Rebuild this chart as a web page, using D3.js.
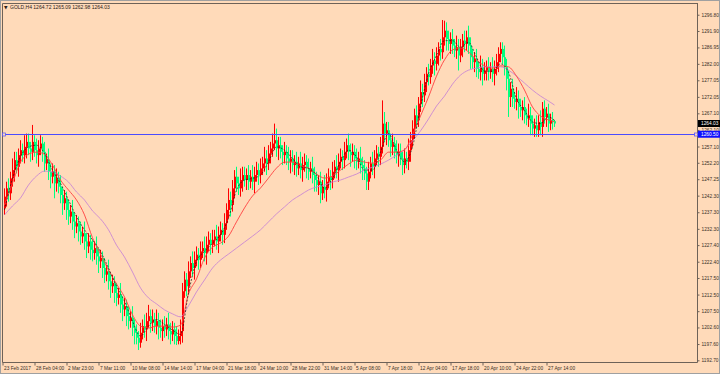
<!DOCTYPE html>
<html>
<head>
<meta charset="utf-8">
<script src="https://cdn.jsdelivr.net/npm/d3@7"></script>
<style>
  body { margin: 0; background: #ffdab9; }
  svg { display: block; }
  text { font-family: "Liberation Sans", Arial, sans-serif; }
</style>
</head>
<body>
<svg id="chart" width="720" height="374"></svg>
<script>
// GOLD H4 candles, one value per bar (oldest first)
const opens = [1238.5,1242.0,1244.5,1243.0,1247.5,1250.0,1253.0,1251.0,1254.5,1256.0,1254.5,1257.0,1258.5,1256.5,1255.5,1258.5,1256.0,1254.5,1256.5,1258.0,
1255.5,1252.0,1253.0,1249.5,1248.0,1249.5,1246.0,1247.5,1245.0,1242.5,1240.0,1241.5,1238.0,1236.0,1237.5,1234.5,1233.0,1234.0,1231.5,1230.0,
1231.0,1228.5,1227.0,1228.5,1226.0,1225.0,1226.5,1224.0,1222.5,1223.5,1220.5,1218.5,1219.5,1216.5,1215.0,1216.0,1213.0,1211.5,1212.5,1209.5,
1208.0,1209.0,1206.0,1204.5,1205.5,1202.5,1201.0,1199.5,1198.0,1201.0,1203.0,1202.0,1204.5,1206.0,1204.0,1205.0,1203.0,1204.5,1202.5,1201.5,
1203.0,1202.0,1203.5,1201.5,1200.5,1202.0,1200.0,1198.5,1200.0,1201.5,1213.5,1217.0,1215.0,1219.5,1222.0,1220.5,1223.0,1224.5,1223.0,1225.5,
1226.5,1225.0,1227.5,1229.0,1227.5,1229.0,1230.0,1228.5,1230.5,1232.0,1230.5,1234.0,1238.0,1241.0,1239.5,1244.5,1248.0,1246.0,1244.5,1247.0,
1248.5,1247.0,1248.5,1246.5,1248.0,1246.5,1248.5,1250.0,1248.5,1250.5,1252.0,1253.5,1252.0,1255.0,1256.5,1258.0,1259.0,1256.5,1257.5,1255.5,
1254.5,1255.5,1253.5,1252.5,1253.5,1251.5,1252.5,1250.5,1252.0,1250.0,1251.5,1252.5,1250.5,1249.5,1250.5,1248.5,1247.0,1245.5,1246.5,1243.0,
1245.0,1244.0,1246.5,1248.0,1247.0,1249.5,1251.0,1250.0,1252.5,1254.0,1253.0,1255.5,1257.5,1255.5,1254.5,1255.5,1253.5,1252.5,1253.5,1251.5,
1250.5,1249.0,1246.5,1249.5,1252.0,1251.0,1253.5,1255.0,1254.0,1257.0,1264.0,1261.0,1262.0,1259.0,1257.0,1258.0,1255.5,1254.5,1255.5,1253.5,
1251.5,1253.5,1252.5,1256.0,1259.0,1262.5,1266.5,1265.0,1270.0,1273.5,1272.5,1276.5,1279.0,1278.0,1281.5,1283.0,1282.0,1284.5,1286.5,1285.5,
1290.0,1292.0,1289.5,1288.0,1289.5,1287.5,1286.0,1287.0,1284.5,1287.0,1289.0,1288.0,1290.0,1287.5,1284.0,1282.5,1283.5,1280.5,1279.5,1281.0,
1279.0,1280.0,1281.0,1279.5,1280.5,1279.0,1280.5,1282.5,1285.0,1286.5,1284.0,1281.0,1277.5,1272.0,1274.5,1271.5,1270.5,1271.5,1269.0,1268.0,
1269.0,1266.5,1265.5,1266.5,1264.0,1262.5,1263.5,1262.0,1264.5,1263.0,1268.5,1266.0,1267.0,1264.0,1265.0,1264.72];
const highs = [1244.5,1246.5,1247.5,1249.5,1253.5,1255.5,1255.5,1256.5,1259.0,1258.0,1260.5,1261.0,1261.0,1258.5,1263.6,1260.5,1259.5,1259.0,1260.5,1260.0,
1258.5,1255.0,1256.5,1252.0,1252.0,1251.5,1250.5,1249.5,1248.5,1245.0,1244.0,1243.5,1241.0,1239.5,1241.0,1237.0,1236.5,1236.0,1234.5,1233.0,
1234.5,1231.0,1231.0,1230.5,1229.0,1228.5,1230.0,1226.5,1226.0,1225.5,1223.5,1221.5,1223.0,1219.0,1218.5,1218.0,1216.0,1214.5,1216.0,1212.0,
1211.5,1211.0,1209.0,1207.5,1209.0,1205.0,1203.5,1201.5,1204.0,1205.0,1206.5,1207.0,1209.4,1208.0,1208.0,1207.0,1208.0,1207.0,1205.0,1205.0,
1206.0,1205.5,1207.0,1204.0,1204.5,1204.0,1203.0,1202.0,1205.0,1216.0,1219.5,1219.0,1222.5,1224.0,1225.5,1225.5,1227.0,1226.5,1228.5,1228.5,
1230.0,1230.0,1231.5,1231.0,1232.0,1232.0,1233.5,1233.0,1234.5,1234.0,1237.0,1240.0,1244.5,1243.5,1247.0,1250.0,1251.0,1248.0,1250.5,1251.0,
1251.0,1250.5,1251.5,1250.0,1251.5,1251.0,1252.5,1252.0,1253.5,1254.0,1257.0,1256.0,1257.5,1258.5,1261.0,1264.0,1262.5,1260.0,1260.0,1257.5,
1258.5,1257.5,1257.0,1256.0,1256.0,1254.5,1255.5,1254.0,1255.5,1254.0,1255.0,1254.5,1253.5,1252.5,1254.0,1251.0,1249.5,1248.5,1249.5,1247.0,
1248.5,1249.0,1250.5,1250.0,1252.5,1253.0,1254.5,1255.0,1256.5,1256.0,1258.5,1259.5,1261.0,1258.0,1258.0,1257.5,1256.5,1255.5,1257.0,1254.0,
1253.0,1251.0,1252.5,1254.0,1255.5,1256.0,1257.5,1257.0,1260.0,1271.0,1267.5,1264.5,1264.5,1261.0,1261.0,1260.0,1259.0,1258.0,1258.0,1255.5,
1256.5,1255.5,1259.5,1261.5,1265.0,1268.5,1269.5,1272.0,1277.0,1276.0,1279.0,1281.0,1282.0,1283.5,1286.5,1285.5,1287.0,1288.5,1289.5,1295.2,
1295.0,1294.5,1292.0,1291.5,1292.5,1289.5,1290.5,1289.5,1289.5,1291.0,1292.0,1292.0,1293.5,1290.0,1286.5,1285.5,1286.5,1282.5,1284.5,1283.5,
1282.5,1283.0,1284.0,1282.5,1284.0,1283.0,1285.0,1287.0,1288.5,1288.5,1287.5,1283.5,1280.0,1276.5,1277.5,1273.5,1275.0,1274.0,1271.5,1271.0,
1272.0,1268.5,1270.0,1269.0,1266.5,1265.5,1266.5,1266.5,1268.0,1270.5,1271.0,1269.0,1270.0,1267.0,1267.5,1265.09];
const lows = [1236.5,1239.0,1240.5,1241.0,1245.0,1246.5,1249.0,1248.0,1252.0,1252.5,1252.0,1253.5,1254.5,1252.5,1253.0,1254.0,1252.0,1251.0,1254.5,1252.5,
1249.5,1250.0,1247.0,1244.5,1246.0,1241.5,1243.5,1243.0,1240.0,1236.5,1238.0,1235.0,1233.5,1234.0,1232.0,1229.5,1231.0,1228.5,1227.5,1228.0,
1226.0,1223.5,1225.0,1223.0,1222.5,1223.0,1221.5,1219.0,1220.5,1217.5,1216.0,1216.5,1214.0,1211.5,1213.0,1210.0,1209.0,1209.5,1207.0,1204.5,
1206.0,1203.0,1202.0,1202.5,1200.0,1197.5,1197.5,1195.8,1196.5,1199.0,1199.5,1198.5,1202.5,1201.0,1201.5,1201.0,1200.5,1199.0,1199.5,1198.5,
1199.5,1200.0,1199.0,1197.5,1198.5,1197.5,1197.3,1197.5,1197.5,1198.0,1211.5,1212.0,1212.5,1217.5,1218.0,1217.0,1221.0,1220.0,1220.5,1223.5,
1222.5,1221.5,1225.5,1224.5,1225.0,1227.0,1226.0,1225.0,1228.5,1227.5,1228.0,1232.0,1235.5,1236.0,1237.5,1241.5,1243.5,1242.5,1242.0,1243.5,
1245.0,1244.0,1244.0,1244.5,1244.0,1243.0,1246.5,1245.5,1246.0,1248.5,1249.5,1248.5,1250.0,1252.0,1254.0,1256.0,1254.0,1253.0,1253.5,1251.5,
1252.0,1251.5,1250.0,1249.0,1249.5,1248.5,1248.0,1248.5,1247.5,1246.5,1249.5,1247.5,1247.0,1247.5,1246.0,1243.5,1243.5,1242.5,1240.0,1241.0,
1241.5,1240.5,1244.5,1244.0,1244.5,1247.5,1247.5,1246.5,1250.5,1250.0,1250.5,1253.5,1253.0,1251.0,1252.5,1250.5,1250.0,1250.5,1249.0,1247.0,
1247.0,1244.0,1244.0,1247.5,1248.5,1247.5,1251.5,1251.0,1251.5,1255.0,1258.5,1257.5,1257.0,1254.0,1254.5,1253.5,1252.0,1251.0,1251.5,1248.5,
1249.0,1250.5,1250.0,1252.5,1257.0,1259.5,1262.5,1263.0,1267.5,1269.0,1270.5,1273.5,1275.5,1276.0,1279.0,1278.5,1280.0,1281.5,1283.0,1283.5,
1287.5,1286.0,1286.0,1285.0,1285.0,1284.0,1283.5,1280.0,1282.5,1284.0,1285.5,1286.0,1285.0,1280.5,1280.5,1279.5,1278.0,1277.5,1277.0,1275.5,
1277.0,1277.0,1277.0,1277.5,1276.5,1275.5,1278.5,1279.5,1282.5,1282.0,1278.5,1274.0,1266.0,1269.0,1269.0,1268.5,1268.0,1265.5,1266.0,1265.0,
1264.0,1263.5,1263.0,1260.5,1260.5,1260.0,1260.0,1260.0,1260.5,1260.0,1264.0,1263.0,1261.5,1262.0,1262.2,1262.98];
const closes = [1242.0,1244.5,1243.0,1247.5,1250.0,1253.0,1251.0,1254.5,1256.0,1254.5,1257.0,1258.5,1256.5,1255.5,1258.5,1256.0,1254.5,1256.5,1258.0,1255.5,
1252.0,1253.0,1249.5,1248.0,1249.5,1246.0,1247.5,1245.0,1242.5,1240.0,1241.5,1238.0,1236.0,1237.5,1234.5,1233.0,1234.0,1231.5,1230.0,1231.0,
1228.5,1227.0,1228.5,1226.0,1225.0,1226.5,1224.0,1222.5,1223.5,1220.5,1218.5,1219.5,1216.5,1215.0,1216.0,1213.0,1211.5,1212.5,1209.5,1208.0,
1209.0,1206.0,1204.5,1205.5,1202.5,1201.0,1199.5,1198.0,1201.0,1203.0,1202.0,1204.5,1206.0,1204.0,1205.0,1203.0,1204.5,1202.5,1201.5,1203.0,
1202.0,1203.5,1201.5,1200.5,1202.0,1200.0,1198.5,1200.0,1201.5,1213.5,1217.0,1215.0,1219.5,1222.0,1220.5,1223.0,1224.5,1223.0,1225.5,1226.5,
1225.0,1227.5,1229.0,1227.5,1229.0,1230.0,1228.5,1230.5,1232.0,1230.5,1234.0,1238.0,1241.0,1239.5,1244.5,1248.0,1246.0,1244.5,1247.0,1248.5,
1247.0,1248.5,1246.5,1248.0,1246.5,1248.5,1250.0,1248.5,1250.5,1252.0,1253.5,1252.0,1255.0,1256.5,1258.0,1259.0,1256.5,1257.5,1255.5,1254.5,
1255.5,1253.5,1252.5,1253.5,1251.5,1252.5,1250.5,1252.0,1250.0,1251.5,1252.5,1250.5,1249.5,1250.5,1248.5,1247.0,1245.5,1246.5,1243.0,1245.0,
1244.0,1246.5,1248.0,1247.0,1249.5,1251.0,1250.0,1252.5,1254.0,1253.0,1255.5,1257.5,1255.5,1254.5,1255.5,1253.5,1252.5,1253.5,1251.5,1250.5,
1249.0,1246.5,1249.5,1252.0,1251.0,1253.5,1255.0,1254.0,1257.0,1264.0,1261.0,1262.0,1259.0,1257.0,1258.0,1255.5,1254.5,1255.5,1253.5,1251.5,
1253.5,1252.5,1256.0,1259.0,1262.5,1266.5,1265.0,1270.0,1273.5,1272.5,1276.5,1279.0,1278.0,1281.5,1283.0,1282.0,1284.5,1286.5,1285.5,1290.0,
1292.0,1289.5,1288.0,1289.5,1287.5,1286.0,1287.0,1284.5,1287.0,1289.0,1288.0,1290.0,1287.5,1284.0,1282.5,1283.5,1280.5,1279.5,1281.0,1279.0,
1280.0,1281.0,1279.5,1280.5,1279.0,1280.5,1282.5,1285.0,1286.5,1284.0,1281.0,1277.5,1272.0,1274.5,1271.5,1270.5,1271.5,1269.0,1268.0,1269.0,
1266.5,1265.5,1266.5,1264.0,1262.5,1263.5,1262.0,1264.5,1263.0,1268.5,1266.0,1267.0,1264.0,1265.0,1264.72,1264.03];

// moving averages, read every 4th bar (last entry = last bar)
const maStep = 4;
const maFast = [1238,1247.5,1254,1257,1257.5,1255,1250,1246,1241,1236,1232,1229,1225.5,1220.5,1215,1210.5,1204.5,1200,1203,1205,
1203.5,1201.8,1200.5,1213,1222.5,1225.5,1228,1230.5,1235.5,1244,1247,1247.5,1248.5,1252.5,1257,1256,1253.5,1251,1250.5,1248.5,
1244.5,1247.5,1252.5,1256,1254,1250,1250,1255.5,1261,1256,1252.5,1257,1269,1279,1284.5,1289,1289,1287,1288.5,1284,
1279.8,1279.8,1282,1279.5,1271.5,1268,1264.5,1264,1266,1265];
const maMid = [1239.5,1246.1,1252.4,1254.8,1255.4,1254.8,1251.5,1247.0,1244.0,1241.0,1236.5,1229.6,1224.7,1219.9,1215.7,1211.8,1206.4,1203.0,1202.4,1203.0,
1203.0,1202.7,1203.3,1212.7,1217.2,1223.5,1226.8,1228.0,1230.1,1234.4,1238.6,1242.2,1244.6,1247.6,1250.6,1252.4,1252.4,1251.2,1250.6,1248.8,
1247.6,1248.2,1250.0,1251.8,1253.0,1252.4,1252.1,1253.0,1255.4,1255.4,1256.1,1260.6,1266.3,1272.0,1278.3,1283.2,1286.2,1286.8,1285.6,1283.2,
1281.4,1280.7,1281.4,1281.1,1278.3,1274.1,1269.0,1266.3,1265.1,1264.5];
const maSlow = [1236.5,1239.2,1241.6,1245.5,1248.2,1249.7,1249.4,1248.2,1246.4,1243.4,1241.0,1237.7,1235.3,1232.0,1227.4,1223.8,1219.3,1214.5,1211.5,1209.7,
1207.9,1206.7,1205.8,1209.1,1213.3,1216.9,1220.5,1222.9,1224.7,1226.5,1228.3,1230.1,1232.0,1234.4,1236.8,1238.9,1241.0,1242.5,1244.0,1244.9,
1245.5,1246.4,1247.0,1247.9,1248.8,1250.0,1250.9,1251.8,1253.0,1254.5,1256.1,1258.8,1261.8,1265.4,1269.3,1272.3,1275.9,1278.6,1280.1,1280.7,
1281.1,1281.1,1281.1,1280.1,1278.3,1276.2,1274.1,1272.3,1270.8,1269.6];

// axis labels
const timeLabels = ["23 Feb 2017","28 Feb 04:00","2 Mar 23:00","7 Mar 11:00","10 Mar 08:00","14 Mar 14:00","17 Mar 04:00","21 Mar 18:00","24 Mar 10:00",
  "28 Mar 22:00","31 Mar 14:00","5 Apr 08:00","7 Apr 18:00","12 Apr 04:00","17 Apr 18:00","20 Apr 10:00","24 Apr 22:00","27 Apr 14:00"];
const timeLabelStep = 16; // bars between time labels
const priceLabels = ["1192.70","1197.60","1202.60","1207.50","1212.50","1217.50","1222.40","1227.40","1232.30","1237.30","1242.30",
  "1247.25","1252.20","1257.10","1262.10","1267.10","1272.05","1277.05","1282.00","1286.95","1291.90","1296.80"];
const hLinePrice = 1260.80;
const hLineLabel = "1260.50";
const symbol = "GOLD,H4";

const width = 720, height = 374;
const plotLeft = 2, plotTop = 3, plotRight = 697, plotBottom = 362;
const N = closes.length;

const svg = d3.select("#chart");

// bars sit on whole 2px cells: bar i covers pixels 4+2i and 5+2i
let x = d3.scaleLinear().domain([0, N - 1]).range([4.5, 554.5]);
let y = d3.scaleLinear().domain([1192.19, 1300.33]).range([plotBottom, plotTop]);

// frame
svg.append("rect")
  .attr("x", 0.5).attr("y", 0.5)
  .attr("width", width - 1).attr("height", height - 1)
  .attr("fill", "#ffdab9").attr("stroke", "#a0a0a0");
svg.append("path")
  .attr("d", `M${plotLeft + 0.5},${plotTop + 0.5}H${plotRight + 0.5}M${plotLeft + 0.5},${plotTop + 0.5}V${plotBottom + 0.5}H${plotRight + 0.5}`)
  .attr("fill", "none").attr("stroke", "#6e6258");

// price axis
let yAxis = d3.axisRight(y)
  .tickValues(priceLabels.map(Number))
  .tickFormat((d, i) => priceLabels[i])
  .tickSize(2).tickPadding(2);
let gy = svg.append("g")
  .attr("transform", `translate(${plotRight + 0.5},0)`)
  .call(yAxis);
gy.select(".domain").attr("d", `M0,${plotTop}V${plotBottom + 0.5}`).attr("stroke", "#6e6258");
gy.selectAll(".tick line").attr("stroke", "#6e6258");
gy.selectAll(".tick text").attr("fill", "#3a3028").style("font-size", "4.8px")
  .style("font-family", "Liberation Sans, Arial, sans-serif");

// time axis
let xAxis = d3.axisBottom(x)
  .tickValues(timeLabels.map((d, i) => i * timeLabelStep))
  .tickFormat((d, i) => timeLabels[i])
  .tickSize(3).tickPadding(1);
let gx = svg.append("g")
  .attr("transform", `translate(-2,${plotBottom + 0.5})`)
  .call(xAxis);
gx.select(".domain").remove();
gx.selectAll(".tick line").attr("stroke", "#6e6258");
gx.selectAll(".tick text").attr("fill", "#3a3028").attr("text-anchor", "start").attr("x", 1)
  .style("font-size", "4.8px").style("font-family", "Liberation Sans, Arial, sans-serif");

// candles
const upColor = "#ff0000", downColor = "#00ff7f";
let bars = svg.append("g").selectAll("g")
  .data(d3.range(N))
  .enter()
  .append("g")
  .attr("fill", (i) => (closes[i] >= opens[i] ? upColor : downColor))
  .attr("stroke", (i) => (closes[i] >= opens[i] ? upColor : downColor));

bars.append("line")
  .attr("x1", (i) => x(i)).attr("x2", (i) => x(i))
  .attr("y1", (i) => y(highs[i])).attr("y2", (i) => y(lows[i]))
  .attr("stroke-width", 1);

bars.append("rect")
  .attr("stroke", "none")
  .attr("x", (i) => x(i) - 0.5)
  .attr("width", 2)
  .attr("y", (i) => y(Math.max(opens[i], closes[i])))
  .attr("height", (i) => Math.max(1, Math.abs(y(opens[i]) - y(closes[i]))));

// moving averages
function maLine(values, color, width, dash) {
  let line = d3.line()
    .x((d, k) => x(Math.min(k * maStep, N - 1)))
    .y((d) => y(d))
    .curve(d3.curveMonotoneX);
  svg.append("path")
    .datum(values)
    .attr("d", line)
    .attr("fill", "none")
    .attr("stroke", color)
    .attr("stroke-width", width)
    .attr("stroke-dasharray", dash);
}
maLine(maSlow, "#c47ed6", 0.8, null);
maLine(maMid, "#ff4040", 0.9, null);
maLine(maFast, "#1e1a16", 0.7, "2,1.5");

// horizontal line (selected) with end handles
let hy = Math.round(y(hLinePrice)) + 0.5;
svg.append("line")
  .attr("x1", plotLeft + 1).attr("x2", plotRight)
  .attr("y1", hy).attr("y2", hy)
  .attr("stroke", "#4b4bff").attr("stroke-width", 1);
[plotLeft + 2, plotRight - 1].forEach((hx) => {
  svg.append("rect")
    .attr("x", hx - 1.5).attr("y", hy - 1.5)
    .attr("width", 3).attr("height", 3)
    .attr("fill", "#ffdab9").attr("stroke", "#4b4bff").attr("stroke-width", 0.7);
});

// price boxes on the axis
function priceBox(price, label, bg) {
  let by = y(price);
  svg.append("rect")
    .attr("x", plotRight + 1).attr("y", by - 3.5)
    .attr("width", 22).attr("height", 7)
    .attr("fill", bg);
  svg.append("text")
    .attr("x", plotRight + 4).attr("y", by)
    .attr("dy", "0.35em")
    .attr("fill", "#ffffff")
    .style("font-size", "4.8px")
    .text(label);
}
priceBox(closes[N - 1], closes[N - 1].toFixed(2), "#000000");
priceBox(hLinePrice, hLineLabel, "#1010ff");

// title
svg.append("text")
  .attr("x", 4).attr("y", 8.8)
  .attr("fill", "#2a2018")
  .style("font-size", "4.6px")
  .style("font-family", "DejaVu Sans, sans-serif")
  .text("▼");
svg.append("text")
  .attr("x", 10).attr("y", 8.8)
  .attr("fill", "#2a2018")
  .style("font-size", "5px")
  .text(`${symbol}  ${opens[N - 1].toFixed(2)} ${highs[N - 1].toFixed(2)} ${lows[N - 1].toFixed(2)} ${closes[N - 1].toFixed(2)}`);
</script>
</body>
</html>
